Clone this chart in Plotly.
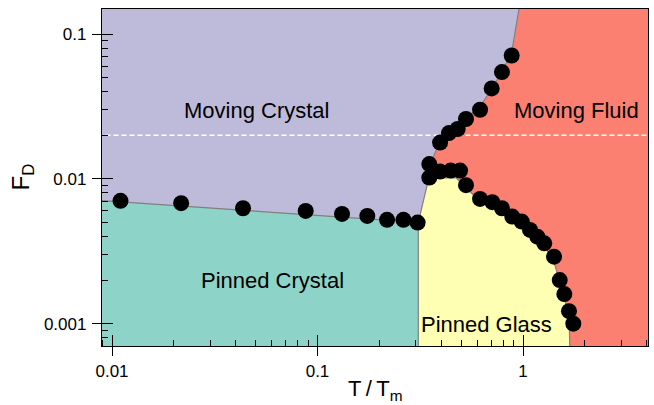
import numpy as np
import plotly.graph_objects as go

# ---------------- data ----------------
# depinning line between pinned crystal and moving crystal
pin_T = [0.011, 0.0217, 0.0434, 0.0876, 0.1316, 0.1747, 0.218, 0.262, 0.307]
pin_F = [0.00705, 0.00679, 0.00627, 0.00601, 0.00573, 0.00555, 0.00521, 0.00521, 0.00499]

# points near the crossover region
mid_T = [0.35, 0.35, 0.395, 0.445, 0.494]
mid_F = [0.01264, 0.0102, 0.01123, 0.01141, 0.01141]

# moving crystal -> moving fluid points
melt_T = [0.395, 0.436, 0.481, 0.528, 0.618, 0.704, 0.790, 0.881]
melt_F = [0.0178, 0.0207, 0.0221, 0.0259, 0.0300, 0.0421, 0.0546, 0.0711]

# pinned glass -> moving fluid points
glass_T = [0.528, 0.618, 0.709, 0.790, 0.887, 0.986, 1.082, 1.174, 1.269,
           1.416, 1.509, 1.589, 1.674, 1.757]
glass_F = [0.00905, 0.00727, 0.0069, 0.00627, 0.00549, 0.00507, 0.00444,
           0.00399, 0.00359, 0.0029, 0.0020, 0.0016, 0.00122, 0.0010]

# phase boundaries
cc_T = [0.0085, 0.3094]            # pinned crystal | moving crystal
cc_F = [0.00712, 0.005005]
pg_T = [0.3094, 0.3094]            # pinned crystal | pinned glass
pg_F = [0.005005, 0.0005]
mg_T = [0.3094, 0.346]             # moving crystal | pinned glass
mg_F = [0.005005, 0.00976]
bm_T = [0.346, 0.3648, 0.4022, 0.4414, 0.4936, 0.5522, 0.618, 0.691, 0.773,
        0.8644, 0.891, 0.99]       # moving crystal | moving fluid
bm_F = [0.00976, 0.01397, 0.0196, 0.02252, 0.02489, 0.02769, 0.0316, 0.0401,
        0.0523, 0.070, 0.0821, 0.2]
bg_T = [0.346, 0.395, 0.472, 0.528, 0.595, 0.691, 0.802, 0.932, 1.082, 1.255,
        1.404, 1.485, 1.571, 1.643, 1.680, 1.70]   # pinned glass | moving fluid
bg_F = [0.00976, 0.01016, 0.01016, 0.00862, 0.00735, 0.00661, 0.00585, 0.00521,
        0.00432, 0.0035, 0.00276, 0.00211, 0.00162, 0.00124, 0.000953, 0.0005]

F_dash = 0.02
T_lo, T_hi = 0.0085, 4.5
F_top, F_bot = 0.2, 0.0005

region_labels = ["Moving Crystal", "Moving Fluid", "Pinned Crystal", "Pinned Glass"]
x_ticks = [0.01, 0.1, 1]
x_ticktext = ["0.01", "0.1", "1"]
y_ticks = [0.001, 0.01, 0.1]
y_ticktext = ["0.001", "0.01", "0.1"]

# ---------------- styles ----------------
C_PURPLE = "#BEBADA"
C_TEAL = "#8DD3C7"
C_YELLOW = "#FFFFB3"
C_RED = "#FB8072"
C_BND = "#808080"
FONT = "Liberation Sans, Arial, sans-serif"

fig = go.Figure()

def poly(xs, ys, color):
    fig.add_trace(go.Scatter(x=xs, y=ys, mode="lines", fill="toself",
                             fillcolor=color, line=dict(width=0),
                             hoverinfo="skip", showlegend=False))

# regions
poly([T_lo] + bm_T[::-1] + [cc_T[1], T_lo],
     [F_top] + bm_F[::-1] + [cc_F[1], cc_F[0]], C_PURPLE)
poly([cc_T[0], cc_T[1], pg_T[1], T_lo],
     [cc_F[0], cc_F[1], pg_F[1], F_bot], C_TEAL)
poly([mg_T[0]] + bg_T + [pg_T[1]],
     [mg_F[0]] + bg_F + [pg_F[1]], C_YELLOW)

# boundary lines
for xs, ys in [(cc_T, cc_F), (pg_T, pg_F), (mg_T, mg_F), (bm_T, bm_F), (bg_T, bg_F)]:
    fig.add_trace(go.Scatter(x=xs, y=ys, mode="lines",
                             line=dict(color=C_BND, width=1.2),
                             hoverinfo="skip", showlegend=False))

# dashed line
fig.add_trace(go.Scatter(x=[T_lo, T_hi], y=[F_dash, F_dash], mode="lines",
                         line=dict(color="white", width=1.3, dash="5px,3px"),
                         hoverinfo="skip", showlegend=False))

# markers
all_T = pin_T + mid_T + melt_T + glass_T
all_F = pin_F + mid_F + melt_F + glass_F
fig.add_trace(go.Scatter(x=all_T, y=all_F, mode="markers",
                         marker=dict(color="black", size=16, line=dict(width=0)),
                         showlegend=False))

# invisible trace for overlay axes (inner tick marks)
fig.add_trace(go.Scatter(x=[pin_T[0]], y=[pin_F[0]], xaxis="x2", yaxis="y2",
                         mode="markers", marker=dict(opacity=0),
                         hoverinfo="skip", showlegend=False))

xr = [-2.0487, 0.6083]
yr = [-3.1541, -0.8272]

minor_x = [m * 10.0 ** e for e in (-3, -2, -1, 0) for m in range(2, 10)]
minor_y = [m * 10.0 ** e for e in (-4, -3, -2, -1) for m in range(2, 10)]

common = dict(type="log", showgrid=False, zeroline=False,
              tickcolor="black", tickwidth=1.3)

fig.update_layout(
    width=654, height=405,
    margin=dict(l=102, r=6, t=9, b=59),
    paper_bgcolor="white", plot_bgcolor=C_RED,
    font=dict(family=FONT, color="black"),
    xaxis=dict(range=xr, tickmode="array", tickvals=x_ticks, ticktext=x_ticktext,
               ticks="outside", ticklen=9, showline=True, linecolor="black",
               linewidth=1.3, mirror=True, tickfont=dict(size=17, color="black"),
               minor=dict(tickmode="array", tickvals=minor_x, ticks="inside",
                          ticklen=6, tickwidth=1.1, tickcolor="black", showgrid=False),
               **common),
    yaxis=dict(range=yr, tickmode="array", tickvals=y_ticks, ticktext=y_ticktext,
               ticks="outside", ticklen=9, showline=True, linecolor="black",
               linewidth=1.3, mirror=True, tickfont=dict(size=17, color="black"),
               ticklabelstandoff=2,
               minor=dict(tickmode="array", tickvals=minor_y, ticks="inside",
                          ticklen=6, tickwidth=1.1, tickcolor="black", showgrid=False),
               **common),
    xaxis2=dict(range=xr, overlaying="x", anchor="y2", side="bottom",
                tickmode="array", tickvals=x_ticks, ticks="inside", ticklen=11,
                showticklabels=False, showline=False, **common),
    yaxis2=dict(range=yr, overlaying="y", anchor="x2", side="left",
                tickmode="array", tickvals=y_ticks, ticks="inside", ticklen=11,
                showticklabels=False, showline=False, **common),
)

lab_pos = [(0.0506, 0.0297), (1.811, 0.0296), (0.0605, 0.00198), (0.661, 0.000987)]
for txt, (tx, fy) in zip(region_labels, lab_pos):
    fig.add_annotation(x=np.log10(tx), y=np.log10(fy), xref="x", yref="y",
                       text=txt, showarrow=False, xanchor="center", yanchor="middle",
                       font=dict(size=22, color="black", family=FONT))

# axis titles
fig.add_annotation(x=0.5, y=-0.13, xref="paper", yref="paper",
                   text="T\u2009/\u2009T<sub>m</sub>", showarrow=False,
                   xanchor="center", yanchor="middle",
                   font=dict(size=22, color="black", family=FONT))
fig.add_annotation(x=-0.1465, y=0.5, xref="paper", yref="paper",
                   text="F<sub>D</sub>", showarrow=False, textangle=-90,
                   xanchor="center", yanchor="middle",
                   font=dict(size=24, color="black", family=FONT))

fig.write_html("out.html")
